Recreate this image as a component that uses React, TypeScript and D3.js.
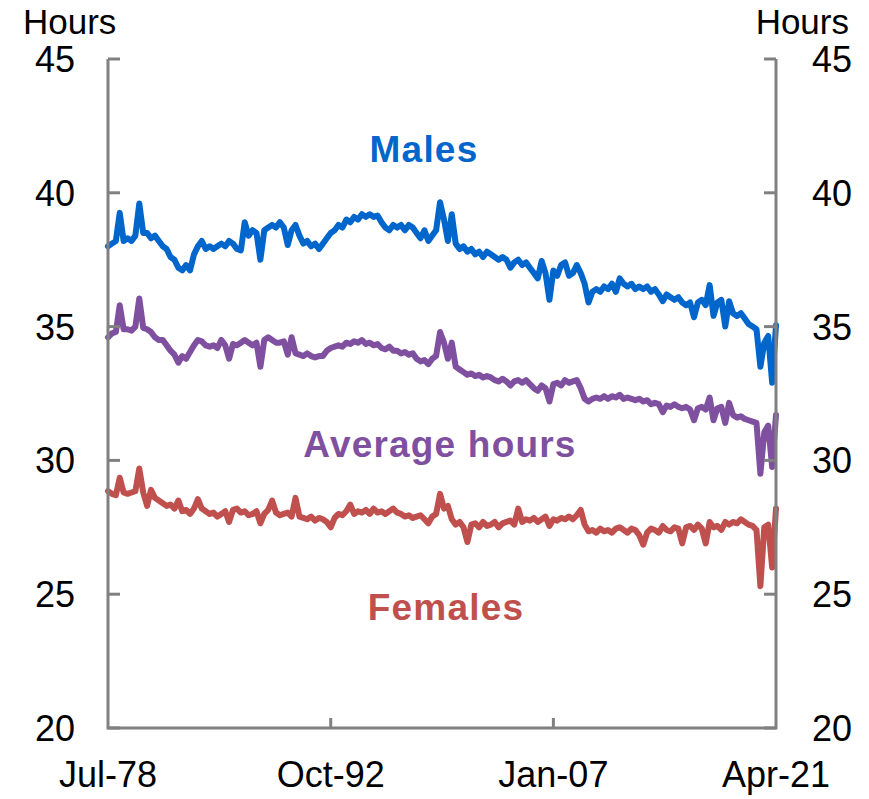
import * as d3 from 'd3';

// quarterly observations, Jul-78 .. Apr-21
const males = [
  38.0, 38.1, 38.2, 39.25, 38.2, 38.3, 38.2, 38.4, 39.6, 38.5,
  38.5, 38.3, 38.4, 38.2, 38.0, 37.9, 37.6, 37.5, 37.2, 37.1,
  37.3, 37.1, 37.7, 38.0, 38.2, 37.9, 38.0, 37.9, 38.0, 38.1,
  38.0, 38.2, 38.1, 37.9, 37.85, 38.9, 38.4, 38.6, 38.5, 37.5,
  38.6, 38.7, 38.8, 38.7, 38.9, 38.7, 38.05, 38.6, 38.8, 38.4,
  38.1, 38.2, 38.0, 38.1, 37.9, 38.1, 38.3, 38.5, 38.6, 38.8,
  38.7, 39.0, 38.9, 39.1, 39.0, 39.2, 39.1, 39.2, 39.1, 39.15,
  38.9, 38.7, 38.6, 38.8, 38.7, 38.8, 38.6, 38.8, 38.7, 38.5,
  38.3, 38.6, 38.2, 38.4, 38.6, 39.65, 39.0, 38.2, 39.2, 38.1,
  37.9, 38.0, 37.8, 37.9, 37.7, 37.8, 37.6, 37.8, 37.7, 37.6,
  37.5, 37.6, 37.5, 37.2, 37.4, 37.5, 37.3, 37.4, 37.2, 37.0,
  36.8, 37.45, 37.0, 36.0, 37.1, 36.9, 37.3, 37.4, 36.9, 37.0,
  37.3, 37.0, 36.6, 35.9, 36.3, 36.4, 36.3, 36.5, 36.4, 36.6,
  36.3, 36.8, 36.6, 36.5, 36.6, 36.4, 36.5, 36.4, 36.5, 36.3,
  36.4, 36.2, 35.95, 36.2, 36.1, 36.0, 36.1, 35.9, 35.8, 35.9,
  35.35, 35.9, 36.0, 35.8, 36.55, 35.4, 35.9, 36.0, 35.0, 35.95,
  35.5, 35.4, 35.5, 35.3, 35.1, 35.0, 34.9, 33.5, 34.4, 34.65,
  32.9, 35.05,
];

const average = [
  34.6, 34.75, 34.8, 35.8, 34.9, 34.9, 34.85, 35.0, 36.05, 34.95,
  34.9, 34.8, 34.6, 34.5, 34.5, 34.3, 34.1, 33.95, 33.65, 33.9,
  33.8, 34.05, 34.3, 34.5, 34.45, 34.3, 34.25, 34.3, 34.2, 34.5,
  34.3, 33.8, 34.35, 34.3, 34.4, 34.5, 34.4, 34.3, 34.4, 33.5,
  34.5, 34.6, 34.5, 34.4, 34.4, 34.45, 33.95, 34.6, 34.0, 33.95,
  33.9, 34.0, 33.9, 33.85, 33.9, 33.9, 34.1, 34.2, 34.25, 34.3,
  34.25, 34.4, 34.35, 34.45, 34.4, 34.5, 34.35, 34.4, 34.3, 34.35,
  34.2, 34.15, 34.25, 34.1, 34.1, 34.0, 34.05, 33.95, 34.0, 33.8,
  33.7, 33.75, 33.6, 33.8, 33.9, 34.8, 34.4, 33.8, 34.4, 33.5,
  33.4, 33.3, 33.2, 33.25, 33.15, 33.2, 33.1, 33.15, 33.1, 33.0,
  32.95, 33.05, 32.95, 32.8, 32.95, 33.0, 32.9, 33.0, 32.85, 32.7,
  32.6, 32.8, 32.7, 32.2, 32.85, 32.9, 32.8, 33.0, 32.9, 32.95,
  33.0, 32.7, 32.3, 32.2, 32.3, 32.35, 32.3, 32.4, 32.3, 32.4,
  32.35, 32.45, 32.3, 32.35, 32.3, 32.25, 32.3, 32.2, 32.25, 32.1,
  32.15, 32.1, 31.8, 32.05, 32.0, 32.1, 32.0, 31.95, 32.0, 31.9,
  31.5, 31.95, 32.0, 31.9, 32.35, 31.5, 31.95, 32.0, 31.4, 32.15,
  31.7, 31.6, 31.65, 31.55, 31.5, 31.45, 31.4, 29.5, 31.05, 31.3,
  29.75, 31.7,
];

const females = [
  28.85, 28.75, 28.7, 29.35, 28.8, 28.75, 28.8, 28.85, 29.7, 28.8,
  28.3, 28.9, 28.6, 28.5, 28.4, 28.3, 28.35, 28.2, 28.5, 28.1,
  28.15, 28.0, 28.2, 28.55, 28.2, 28.1, 28.0, 28.05, 27.9, 28.0,
  28.1, 27.7, 28.15, 28.2, 28.05, 28.1, 27.95, 28.0, 28.1, 27.65,
  28.0, 28.15, 28.5, 28.05, 27.95, 28.0, 28.05, 27.9, 28.6, 27.9,
  27.85, 27.8, 27.9, 27.75, 27.85, 27.8, 27.7, 27.5, 27.85, 28.0,
  27.95, 28.1, 28.35, 28.0, 28.1, 28.05, 28.15, 28.0, 28.2, 28.05,
  28.1, 28.0, 28.1, 28.2, 28.05, 28.0, 27.9, 27.95, 27.85, 27.9,
  27.95, 27.8, 27.65, 27.9, 28.0, 28.75, 28.2, 28.3, 27.8, 27.6,
  27.7, 27.5, 26.95, 27.6, 27.65, 27.5, 27.7, 27.55, 27.6, 27.7,
  27.5, 27.65, 27.7, 27.75, 27.6, 28.2, 27.7, 27.8, 27.75, 27.85,
  27.7, 27.8, 27.9, 27.55, 27.8, 27.75, 27.85, 27.8, 27.9, 27.8,
  27.95, 28.15, 27.6, 27.35, 27.4, 27.3, 27.45, 27.35, 27.4, 27.3,
  27.45, 27.5, 27.4, 27.3, 27.45, 27.4, 27.2, 26.85, 27.3, 27.45,
  27.4, 27.3, 27.55, 27.4, 27.35, 27.5, 27.45, 26.9, 27.5, 27.55,
  27.4, 27.6, 27.45, 26.9, 27.7, 27.5, 27.55, 27.4, 27.7, 27.6,
  27.7, 27.65, 27.8, 27.7, 27.6, 27.55, 27.4, 25.3, 27.5, 27.6,
  26.0, 28.2,
];

const xTickLabels = ['Jul-78', 'Oct-92', 'Jan-07', 'Apr-21'];
const xTickQuarters = [0, 57, 114, 171];
const yTicks = [20, 25, 30, 35, 40, 45];

const series = [
  { name: 'Males', values: males, color: '#0066CC', lx: 424, ly: 162 },
  { name: 'Average hours', values: average, color: '#8050A0', lx: 440, ly: 457 },
  { name: 'Females', values: females, color: '#C0504D', lx: 446, ly: 620 },
];

const W = 869;
const H = 799;
const left = 108;
const right = 776;
const top = 59;
const bottom = 728;
const axisColor = '#808080';
const font = '"Liberation Sans", Arial, sans-serif';

const quarterDate = (i: number) => new Date(1978, 6 + 3 * i, 1);

export default function App() {
  const x = d3.scaleTime()
    .domain([quarterDate(0), quarterDate(171)])
    .range([left, right]);
  const y = d3.scaleLinear().domain([20, 45]).range([bottom, top]);

  const line = d3.line<number>()
    .x((_, i) => x(quarterDate(i)))
    .y(d => y(d));

  return (
    <svg width={W} height={H} style={{ position: 'absolute', left: 0, top: 0 }} fontFamily={font}>
      <rect width={W} height={H} fill="#fff" />

      {series.map(s => (
        <path key={s.name} d={line(s.values) || ''} fill="none" stroke={s.color}
          strokeWidth={6} strokeLinejoin="round" strokeLinecap="round" />
      ))}

      {/* axes */}
      <g stroke={axisColor} strokeWidth={3} fill="none">
        <path d={`M${left},${top}V${bottom}H${right}V${top}`} strokeLinejoin="miter" />
        {yTicks.map(t => (
          <g key={t}>
            <line x1={left} x2={left + 12} y1={y(t)} y2={y(t)} />
            <line x1={right} x2={right - 12} y1={y(t)} y2={y(t)} />
          </g>
        ))}
        {xTickQuarters.slice(1, -1).map(q => (
          <line key={q} x1={x(quarterDate(q))} x2={x(quarterDate(q))} y1={bottom} y2={bottom - 10} />
        ))}
      </g>

      {/* tick labels */}
      <g fontSize={36} fill="#000">
        {yTicks.map(t => (
          <g key={t}>
            <text x={75} y={y(t)} dy="0.36em" textAnchor="end">{t}</text>
            <text x={852} y={y(t)} dy="0.36em" textAnchor="end">{t}</text>
          </g>
        ))}
        {xTickQuarters.map((q, i) => (
          <text key={q} x={x(quarterDate(q))} y={787} textAnchor="middle">{xTickLabels[i]}</text>
        ))}
      </g>
      <g fontSize={35} fill="#000">
        <text x={23} y={34}>Hours</text>
        <text x={849} y={34} textAnchor="end">Hours</text>
      </g>

      {/* series labels */}
      {series.map(s => (
        <text key={s.name} x={s.lx} y={s.ly} textAnchor="middle" fontSize={37}
          fontWeight="bold" letterSpacing={1.2} fill={s.color}>{s.name}</text>
      ))}
    </svg>
  );
}
